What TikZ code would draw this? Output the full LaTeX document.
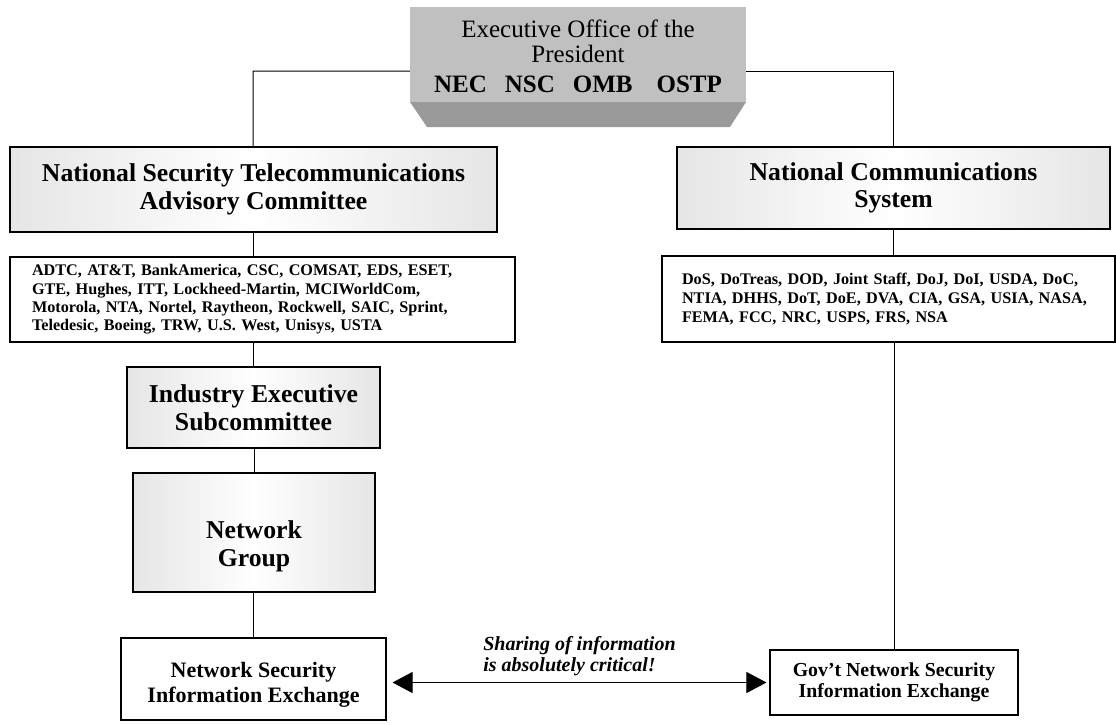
\documentclass[tikz,border=0pt]{standalone}
\usepackage{fontspec}
\setmainfont{Liberation Serif}
\usetikzlibrary{arrows.meta}
\definecolor{face}{HTML}{C0C0C0}
\definecolor{bevel}{HTML}{9A9A9A}
\begin{document}
\begin{tikzpicture}[x=1pt,y=-1pt,
  graybox/.style={draw=black, line width=1.1pt, left color=gray!20, right color=gray!20, middle color=white, align=center, inner sep=0pt, font=\bfseries\fontsize{25.7}{28}\selectfont},
  whitebox/.style={draw=black, line width=1.1pt, fill=white, inner sep=0pt},
  listbox/.style={whitebox, align=left, font=\bfseries\fontsize{16.2}{18.4}\selectfont},
  conn/.style={draw=black, line width=1pt},
  bigtip/.tip={Triangle[length=20pt,width=21pt]}
]
\useasboundingbox (0,0) rectangle (1116,724);

% Executive Office of the President
\fill[bevel] (410,102) -- (746,102) -- (730,127) -- (427,127) -- cycle;
\node[fill=face, minimum width=336pt, minimum height=95pt, inner sep=0pt, align=center,
      font=\fontsize{25}{25}\selectfont] (exec) at (578,54.5)
  {\rule{0pt}{22pt}Executive Office of the\\President\\[5pt]\textbf{NEC\hspace{18pt}NSC\hspace{18pt}OMB\hspace{24pt}OSTP}};

% trunk coordinate of the left column
\coordinate (ltrunk) at (253,71);

% Left column
\node[graybox, minimum width=487pt, minimum height=85pt] (nstac) at (253.5,189.5)
  {National Security Telecommunications\\Advisory Committee};
\node[listbox, minimum width=505pt, minimum height=85pt, text width=461pt] (llist) at (262.5,299.5)
  {ADTC, AT\&T, BankAmerica, CSC, COMSAT, EDS, ESET,\\
   GTE, Hughes, ITT, Lockheed-Martin, MCIWorldCom,\\
   Motorola, NTA, Nortel, Raytheon, Rockwell, SAIC, Sprint,\\
   Teledesic, Boeing, TRW, U.S. West, Unisys, USTA};
\node[graybox, minimum width=253pt, minimum height=81pt] (ies) at (253.5,407.5)
  {Industry Executive\\Subcommittee};
\node[graybox, minimum width=242pt, minimum height=119pt] (ng) at (254,532.5)
  {\rule{0pt}{46pt}Network\\Group};
\node[whitebox, align=center, font=\bfseries\fontsize{22}{25}\selectfont,
      minimum width=265pt, minimum height=82pt] (nsie) at (253.5,679)
  {\rule{0pt}{26pt}Network Security\\Information Exchange};

% Right column
\node[graybox, minimum width=433pt, minimum height=82pt, font=\bfseries\fontsize{25.7}{27}\selectfont] (ncs) at (893.5,188)
  {National Communications\\System};
\node[listbox, minimum width=453pt, minimum height=86pt, text width=413pt,
      font=\bfseries\fontsize{16.2}{19}\selectfont] (rlist) at (888.5,299)
  {DoS, DoTreas, DOD, Joint Staff, DoJ, DoI, USDA, DoC,\\
   NTIA, DHHS, DoT, DoE, DVA, CIA, GSA, USIA, NASA,\\
   FEMA, FCC, NRC, USPS, FRS, NSA};
\node[whitebox, align=center, font=\bfseries\fontsize{19.8}{21}\selectfont,
      minimum width=248pt, minimum height=65pt] (gov) at (894,682.5)
  {Gov’t Network Security\\Information Exchange};

% Connectors
\draw[conn] ([yshift=31pt]exec.south west) -- (ltrunk) -- (ltrunk |- nstac.north);
\draw[conn] ([yshift=31pt]exec.south east) -| (ncs.north);
\draw[conn] (nstac.south -| ltrunk) -- (llist.north -| ltrunk);
\draw[conn] (llist.south -| ltrunk) -- (ies.north -| ltrunk);
\draw[conn] (ng.north |- ies.south) -- (ng.north);
\draw[conn] (nsie.north |- ng.south) -- (nsie.north);
\draw[conn] (ncs.south) -- (ncs.south |- rlist.north);
\draw[conn] (gov.north |- rlist.south) -- (gov.north);

% Information sharing arrow
\draw[conn, bigtip-bigtip] ([xshift=6pt]nsie.east |- gov.west) --
  node[above=5pt, align=left, inner sep=1pt, font=\bfseries\itshape\fontsize{20}{21}\selectfont] (share)
  {Sharing of information\\is absolutely critical!}
  ([xshift=-3pt]gov.west);
\end{tikzpicture}
\end{document}
